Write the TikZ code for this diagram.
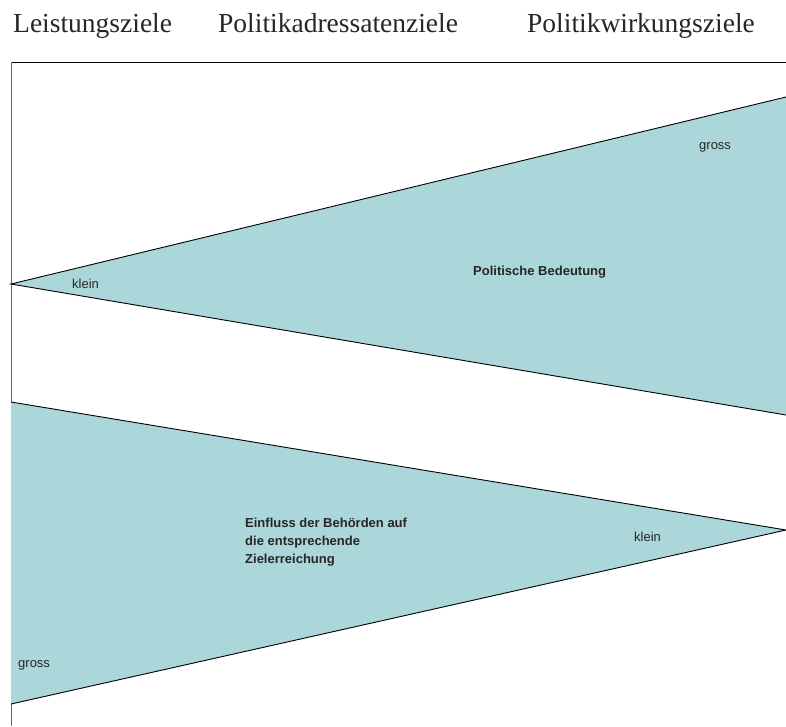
\documentclass[tikz,border=0pt]{standalone}
\usepackage{fontspec}
\newfontfamily\headfont{Liberation Serif}
\newfontfamily\labelfont{Liberation Sans}
\definecolor{zielblau}{RGB}{171,214,218}
\definecolor{textgrau}{RGB}{38,38,38}
\tikzset{
	kopf/.style={anchor=base west, inner sep=0pt, text=textgrau, font=\headfont\fontsize{27.5}{30}\selectfont},
	marke/.style={anchor=base west, inner sep=0pt, text=textgrau, font=\labelfont\fontsize{13}{18}\selectfont},
	titel/.style={marke, font=\labelfont\bfseries\fontsize{13}{18}\selectfont},
	kante/.style={black, line width=0.9pt}
}
\begin{document}
\begin{tikzpicture}[x=1pt, y=-1pt]
	\useasboundingbox (0,0) rectangle (786,726);
	% Kopfzeile
	\node[kopf] (leistung) at (13,32) {Leistungsziele};
	\node[kopf] (adressat) at (218,32) {Politikadressatenziele};
	\node[kopf] (wirkung) at (527,32) {Politikwirkungsziele};
	
	% Rahmen
	\coordinate (ecke) at (11,62);
	\draw[black, line width=0.9pt] (ecke) -- (786,62);
	\draw[gray!80!black, line width=0.9pt] (ecke) -- (11,726);
	
	% Politische Bedeutung
	\coordinate (spitzeA) at (11,284);
	\coordinate (obenA) at (786,97);
	\coordinate (untenA) at (786,415);
	\fill[zielblau] (spitzeA) -- (obenA) -- (untenA) -- cycle;
	\draw[kante] (obenA) -- (spitzeA) -- (untenA);
	\node[marke] (kleinA) at (72,288) {klein};
	\node[marke] (grossA) at (699,149) {gross};
	\node[titel] (bedeutung) at (473,275) {Politische Bedeutung};
	
	% Einfluss der Behoerden
	\coordinate (obenB) at (11,402);
	\coordinate (untenB) at (11,704);
	\coordinate (spitzeB) at (786,530);
	\fill[zielblau] (obenB) -- (spitzeB) -- (untenB) -- cycle;
	\draw[kante] (obenB) -- (spitzeB) -- (untenB);
	\node[marke] (kleinB) at (634,541) {klein};
	\node[marke] (grossB) at (18,667) {gross};
	\node[titel, anchor=north west, align=left] (einfluss) at (245,517.5)
		{Einfluss der Behörden auf\\die entsprechende\\Zielerreichung};
\end{tikzpicture}
\end{document}
